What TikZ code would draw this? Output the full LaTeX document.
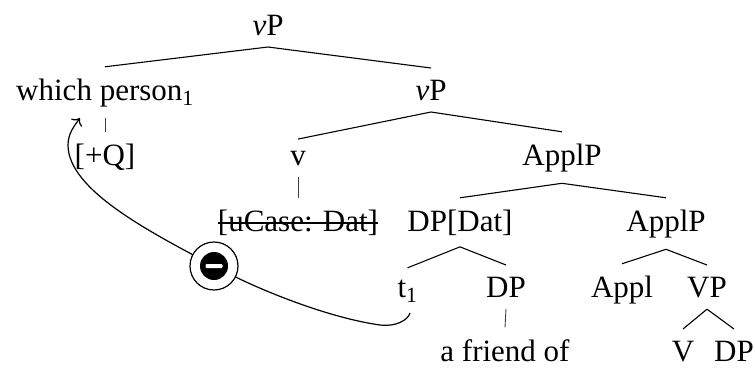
\documentclass[tikz,border=0pt]{standalone}
\usepackage{fontspec}
\setmainfont{Liberation Serif}
\usetikzlibrary{arrows.meta}
\begin{document}
\begin{tikzpicture}[x=1pt,y=-1pt,
  every node/.style={font=\fontsize{31}{37}\selectfont, inner xsep=0pt, inner ysep=11.5pt, anchor=base},
  branch/.style={line width=1.1pt},
  unary/.style={line width=0.9pt, black!75},
  movearrow/.style={line width=1.2pt, -{To[scale=1.5]}},
  strike/.style={line width=1.1pt}]
\useasboundingbox (0,0) rectangle (755,367);
% level 0
\node (vP0) at (268,35) {{\itshape v}P};
% level 1
\node (wp) at (105,100) {which person\textsubscript{1}};
\node (vP1) at (431,100) {{\itshape v}P};
% level 2
\node (q) at (105,165) {[+Q]};
\node (v) at (298,165) {v};
\node (A1) at (562,165) {ApplP};
% level 3
\node (u) at (298,231) {[uCase: Dat]};
\node (D) at (460,231) {DP[Dat]};
\node (A2) at (666,231) {ApplP};
% level 4
\node (t1) at (407.5,297) {t\textsubscript{1}};
\node (dp) at (506,297) {DP};
\node (appl) at (622,297) {Appl};
\node (vp) at (707,297) {VP};
% level 5
\node (af) at (505,361) {a friend of};
\node (V) at (683,361) {V};
\node (dp2) at (734,361) {DP};
% branches
\draw[branch] (vP0.south) -- (wp.north);
\draw[branch] (vP0.south) -- (vP1.north);
\draw[unary] (wp.south) -- (q.north);
\draw[branch] (vP1.south) -- (v.north);
\draw[branch] (vP1.south) -- (A1.north);
\draw[unary] (v.south) -- (u.north);
\draw[branch] (A1.south) -- (D.north);
\draw[branch] (A1.south) -- (A2.north);
\draw[branch] (D.south) -- (t1.north);
\draw[branch] (D.south) -- (dp.north);
\draw[branch] (A2.south) -- (appl.north);
\draw[branch] (A2.south) -- (vp.north);
\draw[unary] (dp.south) -- (af.north);
\draw[branch] (vp.south) -- (V.north);
\draw[branch] (vp.south) -- (dp2.north);
% strike-through
\draw[strike] ([yshift=8pt]u.base west) -- ([yshift=8pt]u.base east);
% movement arrow
\coordinate (cs) at ([xshift=2.5pt,yshift=-16pt]t1.base);
\coordinate (ce) at ([xshift=-25pt,yshift=-18pt]wp.base);
\coordinate (negc) at (214,266);
\draw[movearrow] (cs) .. controls (408,320) and (396,327) .. (380,325)
  .. controls (330,318) and (260,291) .. (negc)
  .. controls (150,232) and (68,190) .. (68,145)
  .. controls (68,133) and (75,125) .. (ce);
% negative marker
\node[circle, draw, line width=1.2pt, fill=white, minimum size=48pt, inner sep=0pt, anchor=center] (neg) at (negc) {};
\node[circle, fill=black, minimum size=28pt, inner sep=0pt, anchor=center] (negd) at (neg.center) {};
\fill[white, rounded corners=1pt] ([xshift=-8.5pt,yshift=-2pt]negd.center) rectangle ([xshift=8.5pt,yshift=2pt]negd.center);
\end{tikzpicture}
\end{document}
